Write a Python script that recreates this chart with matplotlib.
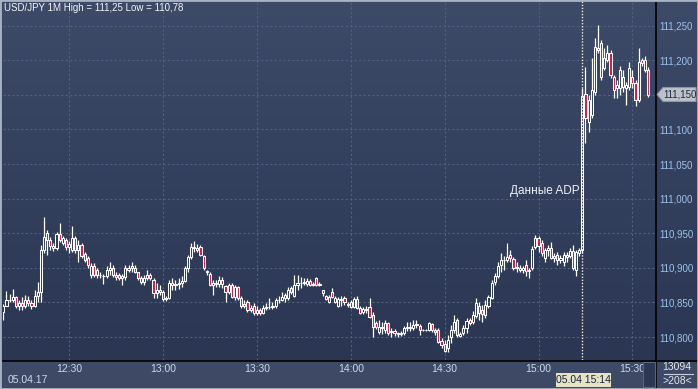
import numpy as np
import matplotlib
matplotlib.use('Agg')
import matplotlib.pyplot as plt
from matplotlib.colors import LinearSegmentedColormap
from matplotlib.patches import Rectangle, Polygon
from matplotlib.lines import Line2D

plt.rcParams['font.family'] = ['Liberation Sans', 'DejaVu Sans']

# USD/JPY 1-minute candles, 05.04.17 12:09 .. 15:35
start_minute = 12 * 60 + 9
opens = [
    110.836, 110.845, 110.853, 110.853, 110.858, 110.845, 110.849, 110.845, 110.853, 110.849,
    110.845, 110.859, 110.865, 110.926, 110.950, 110.940, 110.932, 110.929, 110.949, 110.936,
    110.940, 110.930, 110.926, 110.943, 110.926, 110.933, 110.920, 110.914, 110.890, 110.903,
    110.897, 110.890, 110.888, 110.888, 110.897, 110.900, 110.890, 110.890, 110.885, 110.887,
    110.900, 110.903, 110.900, 110.894, 110.885, 110.880, 110.885, 110.890, 110.882, 110.864,
    110.868, 110.865, 110.855, 110.856, 110.878, 110.875, 110.877, 110.878, 110.881, 110.900,
    110.916, 110.930, 110.929, 110.930, 110.917, 110.895, 110.891, 110.875, 110.878, 110.877,
    110.882, 110.874, 110.865, 110.875, 110.858, 110.872, 110.856, 110.845, 110.851, 110.839,
    110.845, 110.835, 110.839, 110.835, 110.842, 110.843, 110.843, 110.845, 110.853, 110.853,
    110.861, 110.856, 110.871, 110.859, 110.875, 110.878, 110.878, 110.877, 110.881, 110.875,
    110.885, 110.875, 110.868, 110.859, 110.851, 110.865, 110.851, 110.845, 110.855, 110.856,
    110.848, 110.851, 110.843, 110.855, 110.842, 110.836, 110.840, 110.843, 110.832, 110.820,
    110.807, 110.814, 110.810, 110.820, 110.807, 110.809, 110.806, 110.804, 110.806, 110.813,
    110.814, 110.813, 110.817, 110.816, 110.810, 110.810, 110.810, 110.819, 110.810, 110.810,
    110.794, 110.790, 110.784, 110.800, 110.810, 110.825, 110.801, 110.806, 110.813, 110.825,
    110.822, 110.830, 110.845, 110.839, 110.832, 110.845, 110.856, 110.880, 110.888, 110.904,
    110.911, 110.911, 110.919, 110.913, 110.900, 110.900, 110.897, 110.904, 110.895, 110.900,
    110.930, 110.943, 110.936, 110.914, 110.926, 110.929, 110.914, 110.919, 110.911, 110.908,
    110.919, 110.917, 110.924, 110.897, 110.921, 110.926, 111.151, 111.111, 111.121, 111.154,
    111.218, 111.225, 111.189, 111.200, 111.211, 111.176, 111.160, 111.160, 111.176, 111.160,
    111.161, 111.176, 111.167, 111.143, 111.200, 111.186, 111.186,
]
highs = [
    110.848, 110.866, 110.862, 110.869, 110.859, 110.853, 110.858, 110.861, 110.859, 110.853,
    110.868, 110.880, 110.933, 110.973, 110.955, 110.945, 110.936, 110.952, 110.965, 110.946,
    110.943, 110.939, 110.960, 110.946, 110.940, 110.936, 110.923, 110.917, 110.907, 110.907,
    110.900, 110.894, 110.891, 110.903, 110.908, 110.904, 110.894, 110.893, 110.891, 110.904,
    110.904, 110.908, 110.904, 110.894, 110.888, 110.890, 110.897, 110.893, 110.885, 110.878,
    110.875, 110.868, 110.859, 110.882, 110.885, 110.882, 110.885, 110.888, 110.903, 110.919,
    110.936, 110.939, 110.934, 110.933, 110.919, 110.897, 110.894, 110.882, 110.882, 110.888,
    110.887, 110.875, 110.878, 110.878, 110.875, 110.874, 110.859, 110.853, 110.853, 110.846,
    110.849, 110.845, 110.842, 110.846, 110.849, 110.856, 110.851, 110.856, 110.859, 110.865,
    110.864, 110.872, 110.874, 110.890, 110.890, 110.887, 110.885, 110.885, 110.884, 110.880,
    110.887, 110.880, 110.868, 110.861, 110.861, 110.871, 110.859, 110.858, 110.859, 110.859,
    110.851, 110.853, 110.858, 110.859, 110.845, 110.843, 110.845, 110.856, 110.836, 110.823,
    110.825, 110.822, 110.825, 110.822, 110.813, 110.812, 110.807, 110.809, 110.816, 110.822,
    110.822, 110.825, 110.825, 110.819, 110.812, 110.812, 110.822, 110.820, 110.813, 110.813,
    110.799, 110.796, 110.803, 110.817, 110.832, 110.827, 110.807, 110.817, 110.827, 110.827,
    110.838, 110.856, 110.851, 110.846, 110.853, 110.861, 110.882, 110.893, 110.908, 110.921,
    110.917, 110.936, 110.926, 110.916, 110.908, 110.904, 110.903, 110.911, 110.900, 110.932,
    110.947, 110.946, 110.940, 110.929, 110.933, 110.937, 110.921, 110.923, 110.919, 110.923,
    110.923, 110.929, 110.933, 110.926, 110.929, 111.160, 111.190, 111.150, 111.203, 111.232,
    111.251, 111.229, 111.218, 111.222, 111.215, 111.179, 111.171, 111.192, 111.186, 111.169,
    111.198, 111.186, 111.171, 111.218, 111.203, 111.206, 111.190,
]
lows = [
    110.825, 110.845, 110.851, 110.851, 110.842, 110.839, 110.839, 110.842, 110.845, 110.840,
    110.843, 110.851, 110.851, 110.921, 110.919, 110.926, 110.924, 110.926, 110.937, 110.933,
    110.926, 110.921, 110.923, 110.921, 110.908, 110.914, 110.908, 110.900, 110.885, 110.887,
    110.885, 110.885, 110.877, 110.885, 110.890, 110.887, 110.882, 110.882, 110.875, 110.882,
    110.894, 110.894, 110.893, 110.882, 110.877, 110.875, 110.882, 110.882, 110.856, 110.856,
    110.861, 110.852, 110.852, 110.855, 110.868, 110.868, 110.869, 110.872, 110.880, 110.894,
    110.913, 110.923, 110.923, 110.917, 110.897, 110.890, 110.874, 110.861, 110.872, 110.872,
    110.871, 110.851, 110.862, 110.856, 110.853, 110.853, 110.842, 110.842, 110.836, 110.836,
    110.832, 110.832, 110.832, 110.833, 110.839, 110.840, 110.840, 110.842, 110.849, 110.852,
    110.851, 110.853, 110.862, 110.858, 110.868, 110.871, 110.875, 110.874, 110.874, 110.874,
    110.874, 110.874, 110.859, 110.853, 110.849, 110.856, 110.849, 110.843, 110.845, 110.846,
    110.843, 110.842, 110.842, 110.840, 110.833, 110.833, 110.835, 110.827, 110.800, 110.812,
    110.804, 110.804, 110.806, 110.803, 110.800, 110.801, 110.800, 110.801, 110.803, 110.809,
    110.809, 110.810, 110.813, 110.803, 110.809, 110.809, 110.809, 110.807, 110.803, 110.791,
    110.784, 110.778, 110.778, 110.791, 110.806, 110.800, 110.800, 110.803, 110.806, 110.817,
    110.819, 110.827, 110.825, 110.822, 110.827, 110.842, 110.855, 110.875, 110.885, 110.894,
    110.897, 110.908, 110.908, 110.897, 110.894, 110.894, 110.893, 110.888, 110.885, 110.897,
    110.927, 110.923, 110.917, 110.908, 110.917, 110.913, 110.908, 110.904, 110.907, 110.903,
    110.908, 110.914, 110.897, 110.888, 110.917, 110.921, 111.080, 111.096, 111.117, 111.150,
    111.211, 111.171, 111.186, 111.198, 111.174, 111.145, 111.145, 111.150, 111.154, 111.135,
    111.157, 111.160, 111.134, 111.140, 111.192, 111.183, 111.147,
]
closes = [
    110.845, 110.853, 110.853, 110.858, 110.845, 110.849, 110.845, 110.853, 110.849, 110.845,
    110.859, 110.865, 110.926, 110.945, 110.940, 110.932, 110.929, 110.949, 110.940, 110.943,
    110.930, 110.934, 110.943, 110.926, 110.933, 110.917, 110.911, 110.904, 110.903, 110.890,
    110.890, 110.890, 110.888, 110.897, 110.900, 110.890, 110.887, 110.885, 110.888, 110.900,
    110.897, 110.900, 110.894, 110.885, 110.880, 110.885, 110.890, 110.885, 110.864, 110.868,
    110.865, 110.855, 110.856, 110.878, 110.875, 110.877, 110.878, 110.881, 110.900, 110.916,
    110.930, 110.929, 110.926, 110.919, 110.900, 110.894, 110.875, 110.878, 110.877, 110.882,
    110.877, 110.865, 110.875, 110.858, 110.872, 110.856, 110.845, 110.848, 110.839, 110.842,
    110.835, 110.839, 110.835, 110.842, 110.843, 110.843, 110.845, 110.853, 110.853, 110.858,
    110.856, 110.868, 110.865, 110.875, 110.878, 110.878, 110.880, 110.881, 110.875, 110.877,
    110.875, 110.877, 110.864, 110.855, 110.858, 110.858, 110.856, 110.855, 110.853, 110.851,
    110.846, 110.843, 110.855, 110.842, 110.835, 110.840, 110.839, 110.829, 110.814, 110.814,
    110.814, 110.813, 110.820, 110.806, 110.809, 110.806, 110.804, 110.806, 110.813, 110.814,
    110.813, 110.817, 110.819, 110.810, 110.810, 110.810, 110.820, 110.810, 110.807, 110.793,
    110.788, 110.780, 110.796, 110.810, 110.822, 110.803, 110.804, 110.813, 110.823, 110.820,
    110.832, 110.849, 110.835, 110.833, 110.846, 110.858, 110.878, 110.888, 110.903, 110.911,
    110.911, 110.916, 110.914, 110.900, 110.901, 110.897, 110.900, 110.895, 110.897, 110.927,
    110.943, 110.932, 110.921, 110.926, 110.929, 110.914, 110.917, 110.911, 110.914, 110.919,
    110.916, 110.924, 110.900, 110.923, 110.926, 111.148, 111.117, 111.143, 111.157, 111.219,
    111.215, 111.176, 111.203, 111.211, 111.179, 111.157, 111.164, 111.186, 111.161, 111.164,
    111.189, 111.167, 111.143, 111.198, 111.196, 111.200, 111.150,
]

price_levels = [110.80, 110.85, 110.90, 110.95, 111.00, 111.05, 111.10, 111.15, 111.20, 111.25]
time_labels = ['12:30', '13:00', '13:30', '14:00', '14:30', '15:00', '15:30']
event_time = '15:14'
event_label = 'Данные ADP'
title = 'USD/JPY 1M High = 111,25 Low = 110,78'
last_price = 111.150

W, H = 698, 389
fig = plt.figure(figsize=(W / 100, H / 100), dpi=100, facecolor='#3e4a65')

def fx(x):
    return x / W

def fy(y):
    return 1 - y / H

def fmt(p):
    return f'{p:.3f}'.replace('.', ',')

# gradient background of the chart area (incl. price scale)
bg = fig.add_axes([0, fy(360), 1, 360 / H], zorder=0)
grad = np.linspace(0, 1, 256).reshape(-1, 1)
bg.imshow(grad, aspect='auto', extent=[0, 1, 0, 1],
          cmap=LinearSegmentedColormap.from_list('bg', ['#3d4a68', '#2a3652']))
bg.axis('off')

ax = fig.add_axes([fx(3), fy(360), fx(655.5) - fx(3), 360 / H], zorder=1)
ax.patch.set_alpha(0)
for s in ax.spines.values():
    s.set_visible(False)

o = np.array(opens); h = np.array(highs); l = np.array(lows); c = np.array(closes)
idx = np.arange(len(c))
top = np.maximum(o, c)
bot = np.minimum(o, c)
up = c >= o

ax.vlines(idx, top, h, color='white', lw=0.9, zorder=3)
ax.vlines(idx, l, bot, color='white', lw=0.9, zorder=3)
ax.bar(idx, top - bot, bottom=bot, width=0.68,
       color=['none' if u else '#e6143e' for u in up],
       edgecolor='white', linewidth=0.75, zorder=4)

def to_idx(t):
    hh, mm = t.split(':')
    return int(hh) * 60 + int(mm) - start_minute

tick_pos = [to_idx(t) for t in time_labels]
ax.set_xticks(tick_pos)
ax.set_xticklabels(time_labels)
ax.set_yticks(price_levels)
# the last-price marker sits on top of its own scale label
ax.set_yticklabels(['' if abs(p - last_price) < 1e-9 else fmt(p) for p in price_levels])
ax.yaxis.tick_right()
ax.tick_params(axis='x', length=0, pad=3, labelsize=7.5, labelcolor='#c9d8ec')
ax.tick_params(axis='y', length=0, pad=3, labelsize=7, labelcolor='#9cc2ec')
ax.grid(True, color='#50607e', linestyle=(0, (2, 2)), linewidth=0.8, zorder=1)
ax.set_axisbelow(True)

ax.set_xlim(-0.1, 208.37)
ax.set_ylim(110.7668, 111.2871)

ev = to_idx(event_time)
ax.axvline(ev, color='#f2ead6', linestyle=(0, (1, 1.2)), lw=1.0, zorder=5)

# frame lines
fig.add_artist(Line2D([fx(3), 1], [fy(360.5)] * 2, color='black', lw=1.2, zorder=6))
fig.add_artist(Line2D([fx(655.5)] * 2, [0, 1], color='black', lw=1.2, zorder=6))
fig.add_artist(Rectangle((0, 0), 1, 1, transform=fig.transFigure, fill=False,
                         edgecolor='#aab3c1', lw=2.0, zorder=7))

fig.text(fx(4), fy(8), title, color='#f2f4f8', fontsize=7, ha='left', va='center')
fig.text(fx(580), fy(191), event_label, color='#eef0f4', fontsize=8.5, ha='right', va='center')
fig.text(fx(8), fy(380), '05.04.17', color='#c9d8ec', fontsize=7.5, ha='left', va='center')

# current time label
fig.add_artist(Rectangle((fx(556), fy(387)), fx(55), 14 / H, transform=fig.transFigure,
                         facecolor='#e6e2c4', edgecolor='none', zorder=8))
fig.text(fx(583.5), fy(380), '05.04 ' + event_time, color='#1a2540', fontsize=7.5,
         ha='center', va='center', zorder=9)

# scroll box
fig.add_artist(Rectangle((fx(643), fy(387)), fx(12), 25 / H, transform=fig.transFigure,
                         facecolor='#2b3753', edgecolor='#56647f', lw=0.8, zorder=8))

# last price marker
pts = [(657, 94.5), (663, 87.5), (696, 87.5), (696, 101.5), (663, 101.5)]
fig.add_artist(Polygon([(fx(x), fy(y)) for x, y in pts], closed=True, transform=fig.transFigure,
                       facecolor='#bcc1ca', edgecolor='#8d94a2', lw=0.8, zorder=8))
fig.text(fx(679.5), fy(94.5), fmt(last_price), color='#1e2b45',
         fontsize=7, ha='center', va='center', zorder=9)

# bottom right counters
fig.text(fx(677), fy(367), '13094', color='#e2e7ee', fontsize=7.5, ha='center', va='center')
fig.add_artist(Line2D([fx(664), fx(693)], [fy(374)] * 2, color='#c8d0dc', lw=0.8))
fig.text(fx(677), fy(381), '>' + str(len(c) + 1) + '<', color='#e2e7ee', fontsize=7.5,
         ha='center', va='center')

fig.savefig('out.png', dpi=100, facecolor=fig.get_facecolor())
